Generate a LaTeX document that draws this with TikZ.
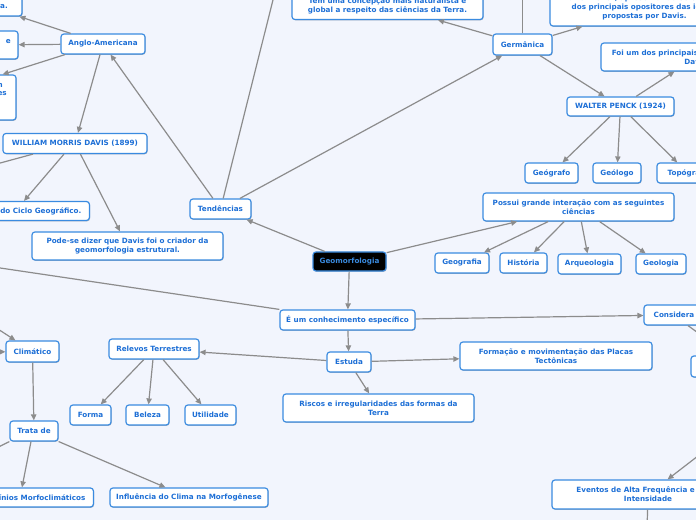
\documentclass[tikz,border=0pt]{standalone}
\usepackage{fontspec}
\newfontfamily\dvs{DejaVu Sans}
\usetikzlibrary{arrows.meta,shadows,calc}
\definecolor{bg}{HTML}{F2F5FD}
\definecolor{bcol}{HTML}{3A8BE0}
\definecolor{tcol}{HTML}{1D6FD6}
\definecolor{lcol}{HTML}{8C8C8C}
\newcommand{\nf}{\dvs\bfseries\fontsize{5.4pt}{6.75pt}\selectfont}
\begin{document}
\begin{tikzpicture}[x=0.75pt,y=-0.75pt,
  box/.style={draw=bcol, line width=0.9pt, fill=white, rounded corners=2.2pt, text=tcol, font=\nf, align=center, inner sep=1pt,
    drop shadow={shadow xshift=0.5pt, shadow yshift=-0.6pt, opacity=0.25, fill=black}},
  darkbox/.style={box, fill=black, text=bcol},
  wh/.style 2 args={minimum width=#1*0.75pt, minimum height=#2*0.75pt},
  txt/.style={text=tcol, font=\nf, inner sep=0pt},
  con/.style={draw=lcol, line width=0.9pt},
  arr/.style={con, -{Triangle[length=4.5pt,width=4pt]}},
]
\useasboundingbox (0,0) rectangle (696,520);
\fill[bg] (0,0) rectangle (696,520);
\clip (0,0) rectangle (696,520);

% partial nodes at left edge
\node[box, wh={82}{24}] (n1) at (-19,4) {};
\node[txt, anchor=base east] (n1t) at (8,9) {ca.};
\node[box, wh={78}{28}] (n2) at (-21,45) {};
\node[txt, anchor=base east] (n2t) at (11,43.5) {e};
\node[box, wh={76}{45}] (n3) at (-22,97.5) {};
\node[txt, anchor=base east] (n3a) at (3,87.5) {n};
\node[txt, anchor=base east] (n3b) at (7,96) {es};

\node[box, wh={84}{20}] (anglo) at (103,44) {Anglo-Americana};
\node[box, wh={144}{20}] (wmd) at (75,143.5) {WILLIAM MORRIS DAVIS (1899)};
\node[box, wh={0}{19}, anchor=east, inner xsep=6pt] (ciclo) at (90,211) {a do Ciclo Geográfico.};
\node[box, wh={191}{28}] (pode) at (127.5,246) {Pode-se dizer que Davis foi o criador da\\geomorfologia estrutural.};
\node[box, wh={61}{20}] (tend) at (220.5,209) {Tendências};
\node[darkbox, wh={73}{19}] (geo) at (349.5,261.5) {Geomorfologia};
\node[box, wh={191}{28}] (tem) at (387.5,5.5) {Tem uma concepção mais naturalista e\\global a respeito das ciências da Terra.};
\node[box, wh={59}{21}] (germ) at (522.5,44.5) {Germânica};
\node[box, wh={189}{36}] (wpbox) at (644.5,8) {Walter Penck, apresentando-se como um\\dos principais opositores das ideias\\propostas por Davis.};
\node[box, wh={192}{28}] (foi) at (697,57) {Foi um dos principais críticos da teoria de\\Davis.};
\node[box, wh={107}{19}] (wp) at (620.5,106.5) {WALTER PENCK (1924)};
\node[box, wh={53}{20}] (geografo) at (551.5,173) {Geógrafo};
\node[box, wh={48}{20}] (geologo) at (617,173) {Geólogo};
\node[box, wh={62}{20}] (topo) at (688,173) {Topógrafo};
\node[box, wh={191}{28}] (possui) at (578.5,207) {Possui grande interação com as seguintes\\ciências};
\node[box, wh={54}{20}] (geografia) at (462,263) {Geografia};
\node[box, wh={47}{20}] (historia) at (523.5,263) {História};
\node[box, wh={63}{20}] (arq) at (589.5,264) {Arqueologia};
\node[box, wh={50}{20}] (geol) at (661,264) {Geologia};
\node[box, wh={135}{20}] (econ) at (347.5,320) {É um conhecimento específico};
\node[box, wh={44}{20}] (estuda) at (349,362) {Estuda};
\node[box, wh={191}{28}] (riscos) at (378.5,408) {Riscos e irregularidades das formas da\\Terra};
\node[box, wh={192}{28}] (form) at (556,356) {Formação e movimentação das Placas\\Tectônicas};
\node[box, wh={60}{20}] (cons) at (674,315) {Considera};
\node[box, wh={60}{21}] (rbox) at (721,366.5) {};
\node[box, wh={192}{29}] (eventos) at (648,494.5) {Eventos de Alta Frequência e Baixa\\Intensidade};
\node[box, wh={53}{21}] (clim) at (32.5,351.5) {Climático};
\node[box, wh={48}{20}] (trata) at (34,431) {Trata de};
\node[box, wh={0}{19}, anchor=east, inner xsep=6pt] (dom) at (94,497.5) {mínios Morfoclimáticos};
\node[box, wh={158}{19}] (infl) at (189,497.5) {Influência do Clima na Morfogênese};
\node[box, wh={90}{20}] (relevos) at (154,349) {Relevos Terrestres};
\node[box, wh={41}{20}] (forma) at (90.5,415) {Forma};
\node[box, wh={43}{20}] (beleza) at (147.5,415) {Beleza};
\node[box, wh={51}{20}] (util) at (210.5,415) {Utilidade};

% free ends off the canvas
\coordinate (offW) at (-20,168.5);
\coordinate (offT) at (278,-20);
\coordinate (offG) at (522.5,-20);
\coordinate (offE) at (-20,265);
\coordinate (offC1) at (-16,320);
\coordinate (offC2) at (-16,352);
\coordinate (offT2) at (-20,456);
\coordinate (offR1) at (716,346);
\coordinate (offR2) at (720,439);
\coordinate (offB) at (647,530);

% connectors
\draw[arr] (anglo) -- (n1);
\draw[arr] (anglo) -- (n2);
\draw[arr] ($(anglo.south)+(-38,0)$) -- ($(n3.north east)+(-14,0)$);
\draw[arr] (anglo) -- (wmd);
\draw[arr] (tend) -- (anglo);
\draw[arr] ($(wmd.south)+(-11,0)$) -- ($(ciclo.north east)+(-66,0)$);
\draw[arr] (wmd) -- (pode);
\draw[con] ($(wmd.south)+(-42,0)$) -- (offW);
\draw[con] (tend) -- (offT);
\draw[arr] (tend) -- (germ);
\draw[arr] (geo) -- (tend);
\draw[arr] (geo) -- (possui);
\draw[arr] (geo) -- (econ);
\draw[arr] (germ) -- (tem);
\draw[con] (germ) -- (offG);
\draw[arr] (germ) -- (wpbox);
\draw[arr] (germ) -- (wp);
\draw[arr] (wp) -- (foi);
\draw[arr] (wp) -- (geografo);
\draw[arr] (wp) -- (geologo);
\draw[arr] (wp) -- (topo);
\draw[arr] (possui) -- (geografia);
\draw[arr] (possui) -- (historia);
\draw[arr] (possui) -- (arq);
\draw[arr] (possui) -- (geol);
\draw[con] (econ.north west) -- (offE);
\draw[arr] (econ) -- (cons);
\draw[arr] (econ) -- (estuda);
\draw[arr] (estuda) -- (relevos);
\draw[arr] (estuda) -- (form);
\draw[arr] (estuda) -- (riscos);
\draw[arr] (relevos) -- (forma);
\draw[arr] (relevos) -- (beleza);
\draw[arr] (relevos) -- (util);
\draw[arr] (offC1) -- (clim);
\draw[arr] (offC2) -- (clim);
\draw[arr] (clim) -- (trata);
\draw[con] (trata.south west) -- (offT2);
\draw[arr] ($(trata.south)+(-3,0)$) -- ($(dom.north east)+(-72,0)$);
\draw[arr] (trata) -- (infl);
\draw[con] ($(cons.south)+(14,0)$) -- (offR1);
\draw[arr] (offR2) -- (eventos);
\draw[con] (eventos) -- (offB);
\end{tikzpicture}
\end{document}
